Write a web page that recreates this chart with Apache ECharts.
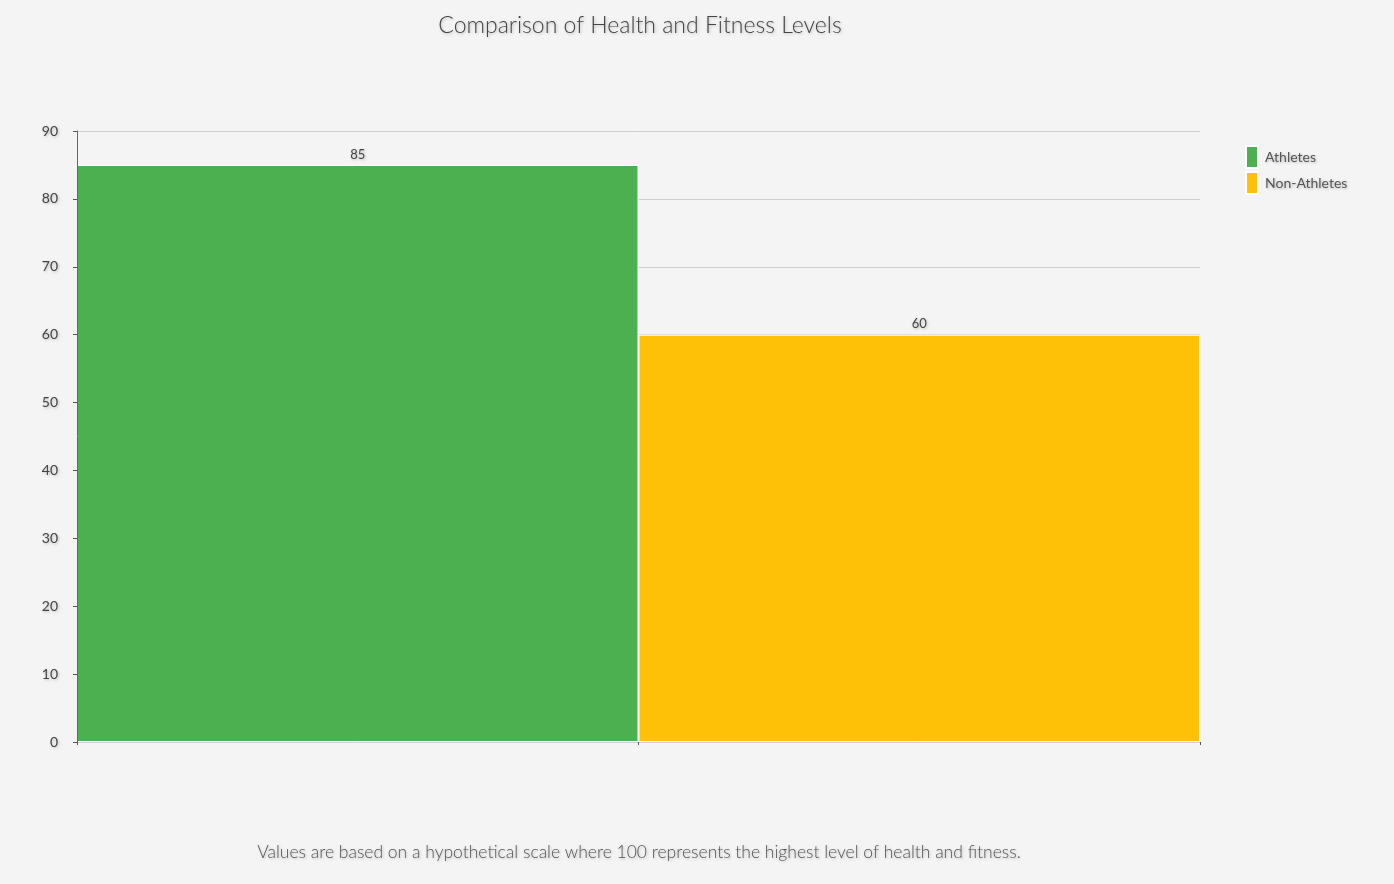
<!DOCTYPE html>
<html>
<head>
<meta charset="utf-8">
<script src="https://cdn.jsdelivr.net/npm/echarts@6/dist/echarts.min.js"></script>
<style>
  html, body { margin: 0; padding: 0; background: #f4f4f4; }
  #chart { width: 1394px; height: 884px; }
</style>
</head>
<body>
<div id="chart"></div>
<script>
// data
const categories = ['Athletes', 'Non-Athletes'];
const athletes = [85, '-'];
const nonAthletes = ['-', 60];
const colors = ['#4caf50', '#ffc107'];

const shadow = {
  textShadowColor: 'rgba(0,0,0,0.25)',
  textShadowBlur: 3,
  textShadowOffsetX: 1,
  textShadowOffsetY: 1
};

const chart = echarts.init(document.getElementById('chart'));

chart.setOption({
  backgroundColor: '#f4f4f4',
  color: colors,
  textStyle: { fontFamily: 'Lato, sans-serif' },
  title: [{
    text: 'Comparison of Health and Fitness Levels',
    left: 635,
    top: 9,
    textAlign: 'center',
    textStyle: Object.assign({ fontSize: 23, fontWeight: 300, color: '#444' }, shadow)
  }, {
    text: 'Values are based on a hypothetical scale where 100 represents the highest level of health and fitness.',
    left: 634,
    top: 838,
    textAlign: 'center',
    textStyle: Object.assign({ fontSize: 17.5, fontWeight: 300, color: '#555' }, shadow)
  }],
  legend: {
    orient: 'vertical',
    left: 1240,
    top: 140,
    itemWidth: 12,
    itemHeight: 22,
    itemGap: 2,
    icon: 'rect',
    textStyle: Object.assign({ fontSize: 14, color: '#555', padding: [0, 0, 0, 2] }, shadow),
    data: categories
  },
  grid: { left: 77, right: 194, top: 131, bottom: 142 },
  xAxis: {
    type: 'category',
    data: categories,
    axisLine: { show: false },
    axisTick: { show: true, lineStyle: { color: '#555' }, length: 3 },
    axisLabel: { show: false }
  },
  yAxis: [{
    type: 'value',
    min: 0,
    max: 90,
    interval: 10,
    axisLine: { show: false },
    axisTick: { show: false },
    axisLabel: Object.assign({ fontSize: 14, color: '#444', margin: 19, padding: [0, 0, 6, 0] }, shadow),
    splitLine: { lineStyle: { color: '#cfcfcf' } }
  }, {
    // overlay so the axis line sits above the bars
    type: 'value',
    position: 'left',
    min: 0,
    max: 90,
    interval: 10,
    z: 5,
    axisLine: { show: true, lineStyle: { color: '#666' } },
    axisTick: { show: true, length: 4, lineStyle: { color: '#555' } },
    axisLabel: { show: false },
    splitLine: { show: false }
  }],
  series: [{
    name: 'Athletes',
    type: 'bar',
    stack: 'all',
    barWidth: '100%',
    data: athletes,
    itemStyle: { borderColor: '#fff', borderWidth: 1 },
    label: Object.assign({ show: true, position: 'top', fontSize: 13, color: '#444', distance: 4 }, shadow)
  }, {
    name: 'Non-Athletes',
    type: 'bar',
    stack: 'all',
    barWidth: '100%',
    data: nonAthletes,
    itemStyle: { borderColor: '#fff', borderWidth: 1 },
    label: Object.assign({ show: true, position: 'top', fontSize: 13, color: '#444', distance: 4 }, shadow)
  }]
});
</script>
</body>
</html>
